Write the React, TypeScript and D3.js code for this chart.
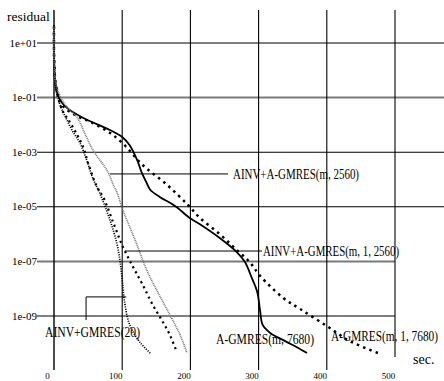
import React from "react";
import * as d3 from "d3";

const WIDTH = 444;
const HEIGHT = 381;

// Axis ticks
const yTickValues = [1e1, 1e-1, 1e-3, 1e-5, 1e-7, 1e-9];
const yTickLabels = ["1e+01", "1e-01", "1e-03", "1e-05", "1e-07", "1e-09"];
const xTickValues = [0, 100, 200, 300, 400, 500];
const xTickLabels = ["0", "100", "200", "300", "400", "500"];

// A-GMRES(m, 7680)
const aGmresTime = [0, 0.3, 1.5, 6, 12, 19, 43, 82, 100, 111, 122, 129, 136, 141, 155, 177, 199, 214, 243, 268, 280, 290, 298, 302, 306, 317, 339, 356, 371];
const aGmresRes = [46, 2.4, 0.44, 0.12, 0.063, 0.042, 0.018, 6.5e-3, 3.6e-3, 1.8e-3, 5.1e-4, 1.7e-4, 7.4e-5, 4.2e-5, 2.3e-5, 1.1e-5, 3.9e-6, 2.3e-6, 7.2e-7, 2.2e-7, 9.5e-8, 2.5e-8, 7.6e-9, 1.7e-9, 4.7e-10, 2.4e-10, 1.2e-10, 7.2e-11, 4.4e-11];

// A-GMRES(m, 1, 7680)
const aGmres1Time = [0, 0.3, 3, 12, 31, 53, 78, 100, 130, 166, 196, 214, 243, 268, 287, 302, 336, 361, 400, 434, 475];
const aGmres1Res = [40, 2.0, 0.29, 0.054, 0.023, 0.013, 6.0e-3, 2.2e-3, 3.4e-4, 6.3e-5, 1.2e-5, 3.9e-6, 1.0e-6, 2.6e-7, 9.5e-8, 3.0e-8, 4.6e-9, 1.8e-9, 4.3e-10, 1.2e-10, 4.4e-11];

// AINV+GMRES(20)
const ainvGmresTime = [0, 0.3, 3, 9, 19, 28, 38, 48, 57, 67, 82, 92, 97, 100, 103, 111, 126, 141];
const ainvGmresRes = [40, 2.0, 0.19, 0.054, 0.015, 5.5e-3, 2.2e-3, 5.1e-4, 1.1e-4, 3.2e-5, 3.3e-6, 4.7e-7, 9.5e-8, 2.1e-8, 3.9e-9, 4.7e-10, 1.1e-10, 4.4e-11];

// AINV+A-GMRES(m, 1, 2560)
const ainvAGmres1Time = [0, 0.3, 3, 12, 23, 34, 43, 50, 63, 72, 87, 101, 116, 130, 145, 158, 170, 180];
const ainvAGmres1Res = [40, 2.0, 0.22, 0.035, 0.013, 4.3e-3, 1.5e-3, 4.0e-4, 5.4e-5, 2.3e-5, 2.6e-6, 3.4e-7, 6.2e-8, 1.4e-8, 2.5e-9, 7.1e-10, 2.0e-10, 4.8e-11];

// AINV+A-GMRES(m, 2560)
const ainvAGmresTime = [0, 0.3, 3, 12, 23, 34, 45, 57, 79, 87, 92, 101, 119, 136, 152, 170, 185, 195];
const ainvAGmresRes = [40, 2.0, 0.29, 0.081, 0.035, 0.019, 5.0e-3, 1.2e-3, 1.9e-4, 6.3e-5, 3.5e-5, 7.6e-6, 6.0e-7, 4.8e-8, 7.6e-9, 1.1e-9, 2.0e-10, 4.4e-11];

const seriesLabels = [
  "A-GMRES(m, 7680)",
  "A-GMRES(m, 1, 7680)",
  "AINV+GMRES(20)",
  "AINV+A-GMRES(m, 1, 2560)",
  "AINV+A-GMRES(m, 2560)",
];

type Pt = [number, number];
const zip = (t: number[], r: number[]): Pt[] => t.map((v, i) => [v, r[i]]);

const series = [
  { name: seriesLabels[0], pts: zip(aGmresTime, aGmresRes), stroke: "#000", width: 1.8, dash: "none" },
  { name: seriesLabels[1], pts: zip(aGmres1Time, aGmres1Res), stroke: "#000", width: 2.5, dash: "2.5 4.2" },
  { name: seriesLabels[2], pts: zip(ainvGmresTime, ainvGmresRes), stroke: "#000", width: 1.7, dash: "1.1 1.3" },
  { name: seriesLabels[3], pts: zip(ainvAGmres1Time, ainvAGmres1Res), stroke: "#000", width: 2.2, dash: "2.1 3.6" },
  { name: seriesLabels[4], pts: zip(ainvAGmresTime, ainvAGmresRes), stroke: "#7d7d7d", width: 1.7, dash: "1 0.8" },
];

const FONT = "'Liberation Serif', 'Times New Roman', serif";

// Narrow (horizontally squeezed) serif label
function NarrowLabel(props: { x: number; y: number; text: string; width: number; squeeze: number }) {
  const { x, y, text, width, squeeze } = props;
  return (
    <g transform={`translate(${x},${y}) scale(${squeeze},1)`}>
      <text x={0} y={0} fontSize={14.5} textLength={width / squeeze} lengthAdjust="spacingAndGlyphs">
        {text}
      </text>
    </g>
  );
}

export default function App() {
  const x = d3.scaleLinear().domain([0, 500]).range([54, 395]);
  const y = d3.scaleLog().domain([1e-9, 1e1]).range([316, 43]);

  const line = d3
    .line<Pt>()
    .x((d) => x(d[0]))
    .y((d) => y(d[1]))
    .curve(d3.curveCatmullRom.alpha(0.5));

  const grayRows = new Set([1e-1, 1e-7]);
  const shortRows = new Set([1e-7, 1e-9]);

  // callout leaders, in data space
  const lead2560y = y(1.6e-4);
  const lead1y = y(2.4e-7);
  const leadGy = y(5.0e-9);

  return (
    <svg
      width={WIDTH}
      height={HEIGHT}
      style={{ position: "absolute", left: 0, top: 0, background: "#fff" }}
      fontFamily={FONT}
    >
      <rect x={0} y={0} width={WIDTH} height={HEIGHT} fill="#fff" />

      {/* horizontal grid */}
      {yTickValues.map((v, i) => (
        <g key={"yg" + i}>
          <line
            x1={37}
            x2={shortRows.has(v) ? x(500) : WIDTH}
            y1={y(v)}
            y2={y(v)}
            stroke={grayRows.has(v) ? "#7a7a7a" : "#000"}
            strokeWidth={grayRows.has(v) ? 2 : 1.1}
          />
          <text x={37} y={y(v) + 3.5} fontSize={11} textAnchor="end" fill="#000">
            {yTickLabels[i]}
          </text>
        </g>
      ))}

      {/* vertical grid */}
      {xTickValues.map((v, i) => (
        <g key={"xg" + i}>
          <line
            x1={x(v)}
            x2={x(v)}
            y1={10}
            y2={v === 500 ? 357 : 370}
            stroke="#000"
            strokeWidth={v === 0 ? 1.4 : 1.1}
          />
          <text x={x(v) - 6.5} y={379} fontSize={9} textAnchor="middle" fill="#000">
            {xTickLabels[i]}
          </text>
        </g>
      ))}

      {/* convergence curves */}
      {series.map((s, i) => (
        <path
          key={"s" + i}
          d={line(s.pts) || ""}
          fill="none"
          stroke={s.stroke}
          strokeWidth={s.width}
          strokeDasharray={s.dash}
          strokeLinecap="butt"
          strokeLinejoin="round"
        />
      ))}

      {/* callouts */}
      <line x1={x(82)} x2={x(255)} y1={lead2560y} y2={lead2560y} stroke="#000" strokeWidth={1} />
      <line x1={x(104)} x2={x(305)} y1={lead1y} y2={lead1y} stroke="#000" strokeWidth={1} />
      <polyline
        points={`${x(47)},${y(7.1e-10)} ${x(47)},${leadGy} ${x(106)},${leadGy}`}
        fill="none"
        stroke="#000"
        strokeWidth={1}
      />

      <NarrowLabel x={233} y={179} text={seriesLabels[4]} width={126} squeeze={0.755} />
      <NarrowLabel x={263} y={256} text={seriesLabels[3]} width={136} squeeze={0.75} />
      <NarrowLabel x={45} y={337} text={seriesLabels[2]} width={95} squeeze={0.8} />
      <NarrowLabel x={216} y={344} text={seriesLabels[0]} width={98} squeeze={0.8} />
      <NarrowLabel x={331} y={341} text={seriesLabels[1]} width={107} squeeze={0.78} />

      {/* axis titles */}
      <text x={7} y={21} fontSize={13.5}>
        residual
      </text>
      <text x={413} y={364} fontSize={14}>
        sec.
      </text>
    </svg>
  );
}
